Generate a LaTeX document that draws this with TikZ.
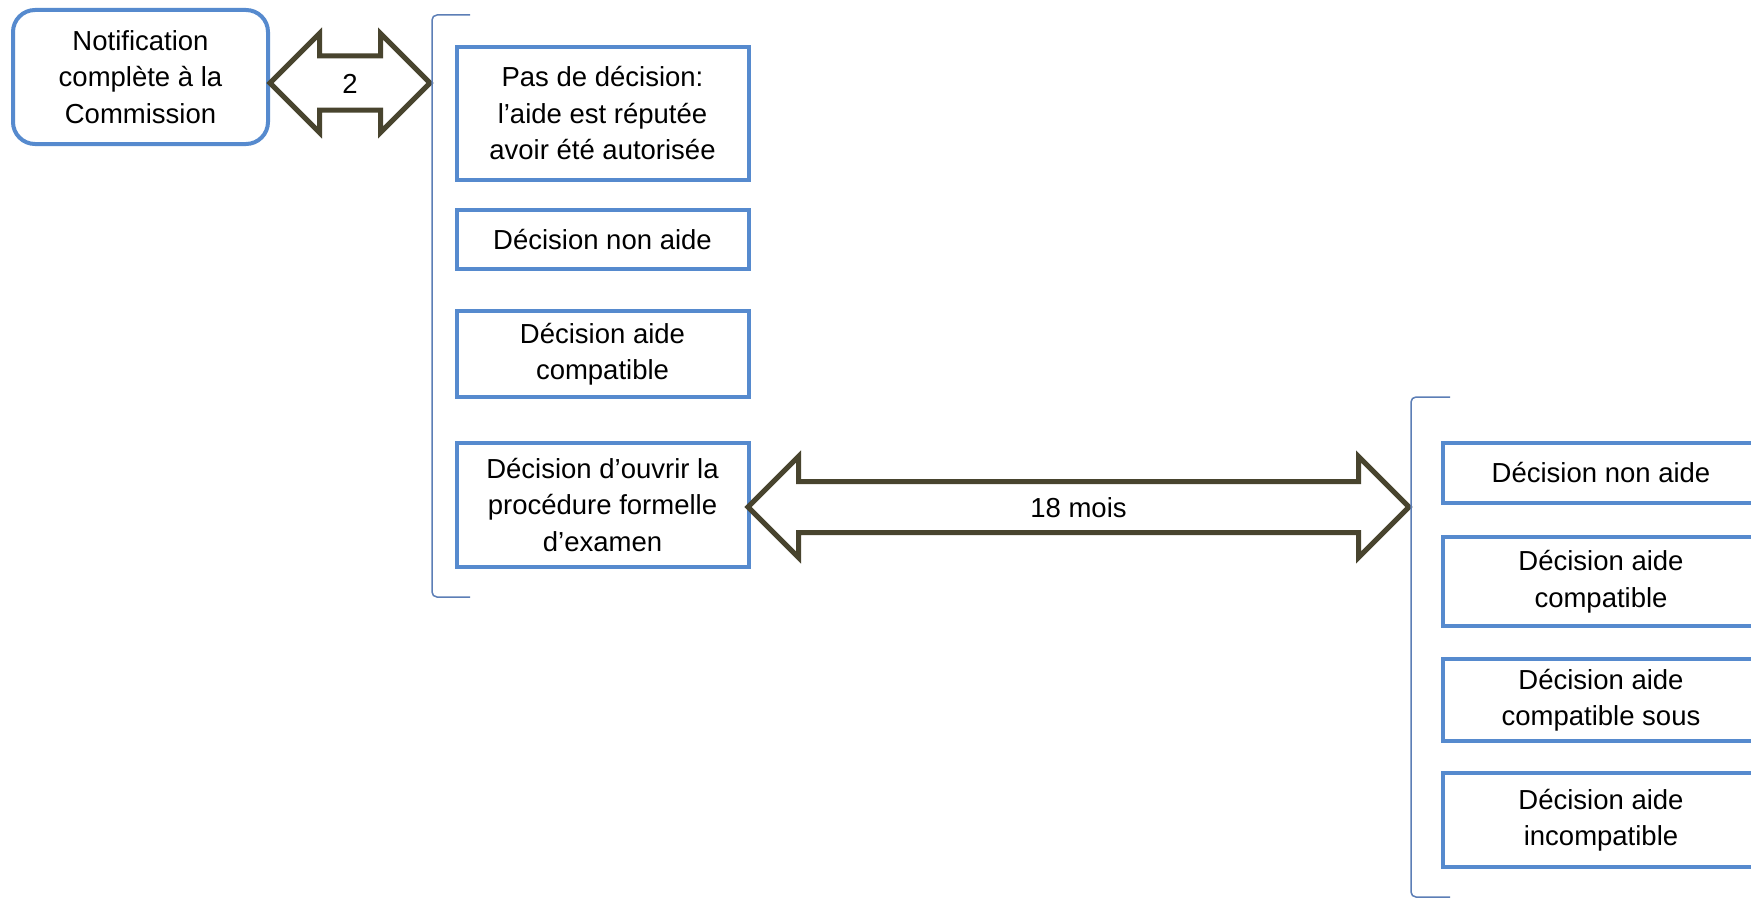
\documentclass[tikz,border=0pt]{standalone}
\usepackage{fontspec}
\setmainfont{Liberation Sans}
\usepackage{tikz}
\usetikzlibrary{shapes.arrows}
\definecolor{boxblue}{RGB}{86,138,206}
\definecolor{brackblue}{RGB}{92,126,182}
\definecolor{arrowbrown}{RGB}{72,68,46}
\newcommand{\boxlinewd}{4pt}
\tikzset{decbox/.style={rectangle, draw=boxblue, line width=\boxlinewd, align=center, inner sep=0pt, minimum width=292pt}}
\tikzset{notifbox/.style={decbox, rounded corners=22pt, minimum width=255pt, minimum height=134pt}}
\tikzset{dblarr/.style={double arrow, draw=arrowbrown, line width=5pt, text height=20pt, text depth=0pt, inner xsep=0pt, inner ysep=13pt, double arrow head extend=25pt}}
\tikzset{brack/.style={draw=brackblue, line width=1.5pt, rounded corners=5pt}}

\begin{document}
\begin{tikzpicture}[x=1pt, y=-1pt, font=\fontsize{27.5pt}{36.5pt}\selectfont]

\fill[white] (0,0) rectangle (1751,899);
\useasboundingbox (0,0) rectangle (1751,899);

\node[notifbox] (notif) at (140.5,77) {Notification\\complète à la\\Commission};
\node[dblarr, minimum height=160pt, inner ysep=14.5pt, double arrow head extend=22.5pt] (duree2) at (350,83) {2};

% premiere phase
\draw[brack] (470,15) -- (432,15) -- (432,597) -- (470,597);

\node[decbox, minimum height=133pt] (pasdec) at (602.5,113.5) {Pas de décision:\\l’aide est réputée\\avoir été autorisée};
\node[decbox, minimum height=59pt] (nonaide) at (602.5,239.5) {Décision non aide};
\node[decbox, minimum height=86pt] (compat) at (602.5,354) {Décision aide\\compatible};
\node[decbox, minimum height=124pt] (ouvrir) at (602.5,505) {Décision d’ouvrir la\\procédure formelle\\d’examen};

\node[dblarr, minimum height=661pt] (duree18) at (1078.5,507) {18 mois};

% procedure formelle
\draw[brack] (1450,397) -- (1411,397) -- (1411,897) -- (1450,897);

\node[decbox, minimum width=316pt, minimum height=60pt] (fnonaide) at (1601,473) {Décision non aide};
\node[decbox, minimum width=316pt, minimum height=89pt] (fcompat) at (1601,581.5) {Décision aide\\compatible};
\node[decbox, minimum width=316pt, minimum height=82pt] (fsous) at (1601,700) {Décision aide\\compatible sous};
\node[decbox, minimum width=316pt, minimum height=94pt] (fincompat) at (1601,820) {Décision aide\\incompatible};

%\draw[dotted] (1751,0) -- (1751,899);

\end{tikzpicture}
\end{document}
